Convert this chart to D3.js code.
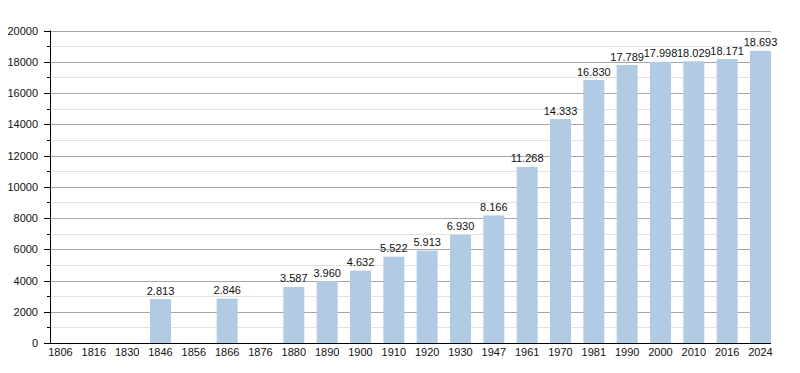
<!DOCTYPE html>
<html>
<head>
<meta charset="utf-8">
<script src="https://cdn.jsdelivr.net/npm/d3@7"></script>
<style>
  body { margin: 0; background: #fff; }
  text { font-family: "Liberation Sans", Arial, sans-serif; fill: #111; }
</style>
</head>
<body>
<div id="chart"></div>
<script>
var years = ["1806", "1816", "1830", "1846", "1856", "1866", "1876", "1880", "1890", "1900", "1910",
             "1920", "1930", "1947", "1961", "1970", "1981", "1990", "2000", "2010", "2016", "2024"];
var population = [null, null, null, 2813, null, 2846, null, 3587, 3960, 4632, 5522,
                  5913, 6930, 8166, 11268, 14333, 16830, 17789, 17998, 18029, 18171, 18693];
var majorTicks = [0, 2000, 4000, 6000, 8000, 10000, 12000, 14000, 16000, 18000, 20000];
var minorTicks = [1000, 3000, 5000, 7000, 9000, 11000, 13000, 15000, 17000, 19000];

var width = 800;
var height = 373;
var plotLeft = 50, plotRight = 771, plotTop = 30.5, plotBottom = 343;
var fontSize = "11px";

var svg = d3.select("#chart")
  .append("svg")
  .attr("width", width)
  .attr("height", height);

var x = d3.scaleBand()
  .domain(years)
  .range([plotLeft, plotRight])
  .paddingInner(0.37)
  .paddingOuter(0);

var y = d3.scaleLinear()
  .domain([0, 20000])
  .range([plotBottom, plotTop]);

// grid lines, light ones first
svg.selectAll(".minor")
  .data(minorTicks)
  .enter().append("line")
  .attr("x1", plotLeft).attr("x2", plotRight)
  .attr("y1", d => Math.round(y(d)) + 0.5)
  .attr("y2", d => Math.round(y(d)) + 0.5)
  .style("stroke", "#e2e2e2");

svg.selectAll(".major")
  .data(majorTicks.slice(1))
  .enter().append("line")
  .attr("x1", plotLeft).attr("x2", plotRight)
  .attr("y1", d => Math.round(y(d)) + 0.5)
  .attr("y2", d => Math.round(y(d)) + 0.5)
  .style("stroke", "#a6a6a6");

// bars
var rows = years.map((yr, i) => ({ year: yr, value: population[i] }))
  .filter(d => d.value != null);

svg.selectAll(".bar")
  .data(rows)
  .enter().append("rect")
  .attr("x", d => x(d.year))
  .attr("y", d => y(d.value))
  .attr("width", x.bandwidth())
  .attr("height", d => y(0) - y(d.value))
  .style("fill", "#b1cbe5");

// value labels, dot as thousands separator
var fmt = d3.formatLocale({ decimal: ",", thousands: ".", grouping: [3], currency: ["", ""] }).format(",");
svg.selectAll(".val")
  .data(rows)
  .enter().append("text")
  .attr("x", d => x(d.year) + x.bandwidth() / 2)
  .attr("y", d => y(d.value) - 4.5)
  .attr("text-anchor", "middle")
  .style("font-size", fontSize)
  .text(d => fmt(d.value));

// y axis
var yAxis = svg.append("g");
yAxis.append("line")
  .attr("x1", plotLeft + 0.5).attr("x2", plotLeft + 0.5)
  .attr("y1", plotTop).attr("y2", plotBottom)
  .style("stroke", "#000");
yAxis.selectAll(".mt")
  .data(majorTicks)
  .enter().append("line")
  .attr("x1", plotLeft - 6).attr("x2", plotLeft)
  .attr("y1", d => Math.round(y(d)) + 0.5)
  .attr("y2", d => Math.round(y(d)) + 0.5)
  .style("stroke", "#000");
yAxis.selectAll(".nt")
  .data(minorTicks)
  .enter().append("line")
  .attr("x1", plotLeft - 3).attr("x2", plotLeft)
  .attr("y1", d => Math.round(y(d)) + 0.5)
  .attr("y2", d => Math.round(y(d)) + 0.5)
  .style("stroke", "#000");
yAxis.selectAll(".yl")
  .data(majorTicks)
  .enter().append("text")
  .attr("x", plotLeft - 12)
  .attr("y", d => y(d) + 4)
  .attr("text-anchor", "end")
  .style("font-size", fontSize)
  .text(d => d);

// x axis
svg.append("line")
  .attr("x1", plotLeft).attr("x2", plotRight)
  .attr("y1", plotBottom + 0.5).attr("y2", plotBottom + 0.5)
  .style("stroke", "#000");
svg.selectAll(".xl")
  .data(years)
  .enter().append("text")
  .attr("x", d => x(d) + x.bandwidth() / 2)
  .attr("y", plotBottom + 12.5)
  .attr("text-anchor", "middle")
  .style("font-size", fontSize)
  .text(d => d);
</script>
</body>
</html>
